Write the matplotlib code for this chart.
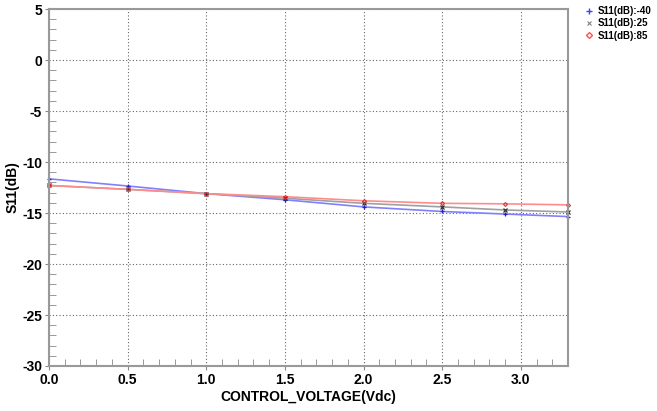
import matplotlib
matplotlib.use('Agg')
from matplotlib import pyplot as plt
from matplotlib.ticker import MultipleLocator

# control voltage (Vdc)
volts = [0.0, 0.5, 1.0, 1.5, 2.0, 2.5, 2.9, 3.3]
# S11 in dB at three temperatures
s11_m40 = [-11.65, -12.35, -13.1, -13.7, -14.4, -14.85, -15.1, -15.35]
s11_25 = [-12.3, -12.68, -13.1, -13.55, -14.05, -14.4, -14.7, -14.9]
s11_85 = [-12.3, -12.68, -13.1, -13.4, -13.8, -14.05, -14.1, -14.2]
names = ['S11(dB):-40', 'S11(dB):25', 'S11(dB):85']

plt.rcParams['font.family'] = ['Liberation Sans', 'DejaVu Sans']
plt.rcParams['font.weight'] = 'bold'
plt.rcParams['axes.unicode_minus'] = False

fig = plt.figure(figsize=(6.57, 4.11), dpi=100)
ax = fig.add_axes([0.0746, 0.1095, 0.79, 0.8685])

ax.plot(volts, s11_m40, color='#8080ff', lw=1.2)
ax.plot(volts, s11_25, color='#a0a0a0', lw=1.2)
ax.plot(volts, s11_85, color='#ff8c8c', lw=1.2)
ax.plot(volts, s11_m40, ls='none', marker='+', ms=3, mew=0.9, color='#2020d0', clip_on=False)
ax.plot(volts, s11_25, ls='none', marker='x', ms=2.5, mew=0.9, color='#303030', clip_on=False)
ax.plot(volts, s11_85, ls='none', marker='D', ms=2, mew=0.8, mfc='none', color='#e03030', clip_on=False)

# legend handles drawn a little bigger, like the reference key
h1, = ax.plot([], [], ls='none', marker='+', ms=4, mew=1, color='#4040ff')
h2, = ax.plot([], [], ls='none', marker='x', ms=3, mew=0.8, color='#808080')
h3, = ax.plot([], [], ls='none', marker='D', ms=3, mew=1, mfc='none', color='#ff5050')

ax.set_xlim(0, 3.3)
ax.set_ylim(-30, 5)
ax.xaxis.set_major_locator(MultipleLocator(0.5))
ax.xaxis.set_minor_locator(MultipleLocator(0.1))
ax.yaxis.set_major_locator(MultipleLocator(5))
ax.yaxis.set_minor_locator(MultipleLocator(1))
ax.xaxis.set_major_formatter(matplotlib.ticker.FormatStrFormatter('%.1f'))

ax.grid(which='major', color='#666666', ls=(0, (1, 2)), lw=0.8)
ax.tick_params(which='major', direction='out', length=3, color='#888888',
               labelsize=10, pad=2)
ax.tick_params(which='minor', direction='in', length=5, color='#888888')
for s in ax.spines.values():
    s.set_color('#999999')
    s.set_linewidth(1.5)

ax.set_xlabel('CONTROL_VOLTAGE(Vdc)', fontsize=10, fontweight='bold', labelpad=2)
ax.set_ylabel('S11(dB)', fontsize=10, fontweight='bold', labelpad=2)

fig.legend([h1, h2, h3], names, loc='upper left', bbox_to_anchor=(0.885, 0.995),
           frameon=False, fontsize=7, handlelength=0.8, handletextpad=0.5,
           labelspacing=0.25, borderaxespad=0)

fig.savefig('out.png', dpi=100)
